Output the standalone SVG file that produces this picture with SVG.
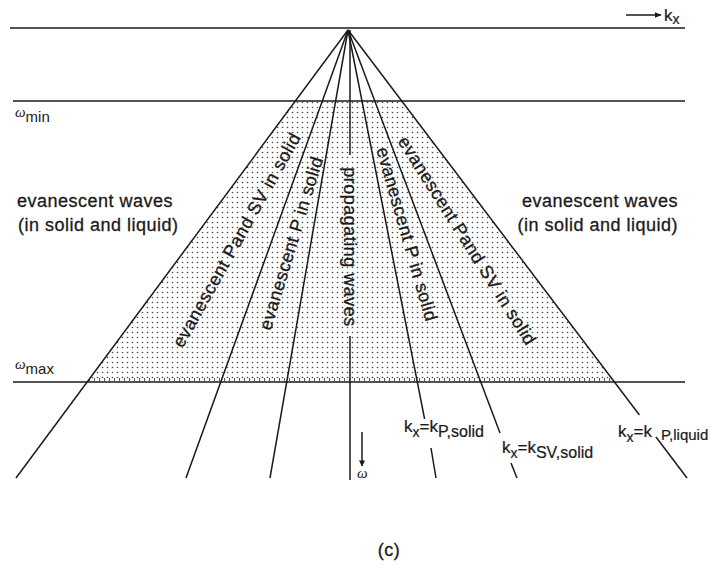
<svg xmlns="http://www.w3.org/2000/svg" width="711" height="567" viewBox="0 0 711 567">
<style>
.ln{stroke:#1a1a1a;stroke-width:1.5;fill:none}
.t{font-family:"Liberation Sans",Arial,sans-serif;font-size:18px;fill:#1a1a1a;stroke:#1a1a1a;stroke-width:0.3;letter-spacing:0.5px}
.k{font-family:"Liberation Sans",Arial,sans-serif;font-size:17px;fill:#1a1a1a;stroke:#1a1a1a;stroke-width:0.2}
.s{font-size:14px}
.w{font-family:"Liberation Serif",serif;font-style:italic;font-size:15px;fill:#1a1a1a}
.sub{font-family:"Liberation Sans",Arial,sans-serif;font-style:normal;font-size:15px}
</style>
<defs>
<pattern id="dots" patternUnits="userSpaceOnUse" width="5" height="5">
<circle cx="2.5" cy="2.5" r="0.8" fill="#444"/>
</pattern>
<marker id="ah" viewBox="0 0 10 10" refX="9" refY="5" markerWidth="7" markerHeight="7" orient="auto" markerUnits="userSpaceOnUse">
<path d="M0,1 L10,5 L0,9 z" fill="#1a1a1a"/>
</marker>
<marker id="ahd" viewBox="0 0 10 10" refX="9" refY="5" markerWidth="9" markerHeight="6" orient="auto" markerUnits="userSpaceOnUse">
<path d="M0,0 L10,5 L0,10 z" fill="#1a1a1a"/>
</marker>
</defs>
<rect width="711" height="567" fill="#fff"/>
<g id="region-stipple">
<polygon points="295.4,101 401.7,101 614.5,382 87,382" fill="url(#dots)"/>
<line x1="89" y1="379.5" x2="612" y2="379.5" stroke="#444" stroke-width="3" stroke-dasharray="0.9 4.1"/>
</g>
<g id="axes">
<line class="ln" x1="10" y1="28" x2="685" y2="28"/>
<line class="ln" x1="13" y1="101" x2="685" y2="101"/>
<line class="ln" x1="13" y1="382" x2="685" y2="382"/>
<line class="ln" x1="626" y1="15" x2="661" y2="15" marker-end="url(#ah)"/>
<text class="k" x="664" y="21">k<tspan class="s" dy="3">x</tspan></text>
<text class="w" x="15" y="117">ω<tspan class="sub" dy="5">min</tspan></text>
<text class="w" x="15" y="369">ω<tspan class="sub" dy="5">max</tspan></text>
<line class="ln" x1="362" y1="432" x2="362" y2="466" marker-end="url(#ahd)"/>
<text class="w" x="357" y="478" font-size="13">ω</text>
</g>
<g id="connectors">
<line class="ln" x1="348" y1="30" x2="16" y2="478"/>
<line class="ln" x1="348" y1="30" x2="186" y2="478"/>
<line class="ln" x1="348" y1="30" x2="270" y2="478"/>
<line class="ln" x1="350" y1="30" x2="350" y2="155"/>
<line class="ln" x1="350" y1="336" x2="350" y2="480"/>
<line class="ln" x1="348" y1="30" x2="424.6" y2="419"/>
<line class="ln" x1="431" y1="448" x2="436" y2="478"/>
<line class="ln" x1="348" y1="30" x2="500" y2="433"/>
<line class="ln" x1="511" y1="463" x2="517" y2="478"/>
<line class="ln" x1="348" y1="30" x2="639.4" y2="415"/>
<line class="ln" x1="656" y1="437" x2="687" y2="478"/>
</g>
<g id="node-evanescent-left">
<text class="t" x="17" y="207">evanescent waves</text>
<text class="t" x="18" y="231">(in solid and liquid)</text>
</g>
<g id="node-evanescent-right">
<text class="t" x="678" y="207" text-anchor="end">evanescent waves</text>
<text class="t" x="678" y="231" text-anchor="end">(in solid and liquid)</text>
</g>
<g id="node-pSV-left">
<text class="t" text-anchor="middle" transform="translate(242,243) rotate(-60.7)">evanescent Pand SV in solid</text>
</g>
<g id="node-P-left">
<text class="t" text-anchor="middle" transform="translate(297,245) rotate(-73)">evanescent P in solid</text>
</g>
<g id="node-propagating">
<text class="t" text-anchor="middle" transform="translate(344,247) rotate(90)">propagating waves</text>
</g>
<g id="node-P-right">
<text class="t" text-anchor="middle" transform="translate(401,236) rotate(74)">evanescent P in solid</text>
</g>
<g id="node-pSV-right">
<text class="t" text-anchor="middle" transform="translate(462,244) rotate(57.8)">evanescent Pand SV in solid</text>
</g>
<g id="label-kP-solid">
<text class="k" x="404" y="432">k<tspan class="s" dy="5">x</tspan><tspan dy="-5">=k</tspan><tspan font-size="16" dy="5">P,solid</tspan></text>
</g>
<g id="label-kSV-solid">
<text class="k" x="502" y="453">k<tspan class="s" dy="5">x</tspan><tspan dy="-5">=k</tspan><tspan font-size="16" dy="5">SV,solid</tspan></text>
</g>
<g id="label-kP-liquid">
<text class="k" x="618" y="437">k<tspan class="s" dy="5">x</tspan><tspan dy="-5">=k</tspan><tspan font-size="15" dy="3" x="661">P,liquid</tspan></text>
</g>
<g id="caption">
<text class="t" x="389" y="556" text-anchor="middle">(c)</text>
</g>
</svg>
